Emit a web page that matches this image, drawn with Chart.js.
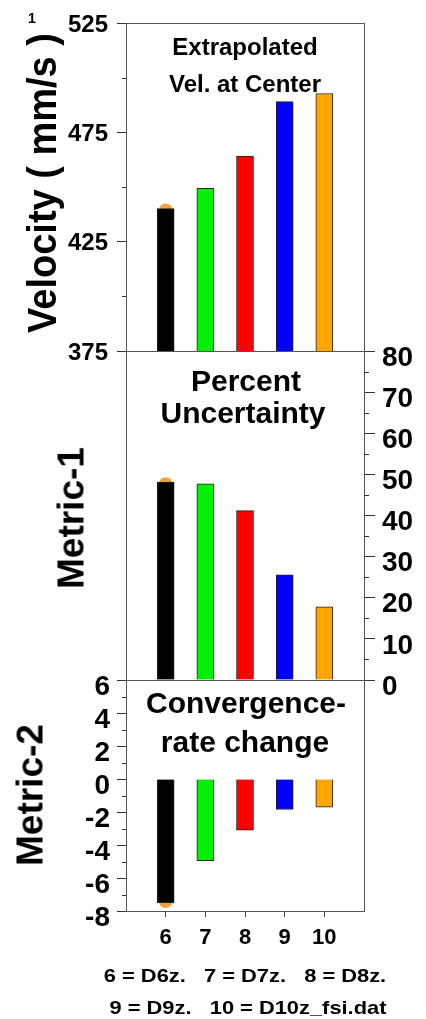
<!DOCTYPE html>
<html>
<head>
<meta charset="utf-8">
<script src="https://cdn.jsdelivr.net/npm/chart.js@4.4.1/dist/chart.umd.min.js"></script>
<style>
  html, body { margin: 0; padding: 0; background: #fff; }
  #wrap { position: relative; width: 426px; height: 1019px; overflow: hidden;
          font-family: "Liberation Sans", Arial, sans-serif; font-weight: bold; color: #000; }
  canvas { position: absolute; left: 0; top: 0; }
  .t { position: absolute; white-space: pre; line-height: 1; }
  .c { transform: translateX(-50%); }
  .r { transform: translate(-50%, -50%) rotate(-90deg); }
</style>
</head>
<body>
<div id="wrap">
  <canvas id="c1" width="426" height="1019"></canvas>
  <canvas id="c2" width="426" height="1019"></canvas>
  <canvas id="c3" width="426" height="1019"></canvas>

  <div class="t" style="left:28px; top:11px; font-size:14px;">1</div>
  <div class="t" style="left:42px; top:183px; font-size:40px; transform:translate(-50%, -50%) rotate(-90deg) scaleX(0.95);">Velocity ( mm/s )</div>
  <div class="t r" style="left:71px; top:518px; font-size:37px;">Metric-1</div>
  <div class="t r" style="left:30px; top:795px; font-size:37px;">Metric-2</div>

  <div class="t c" style="left:245px; top:35px; font-size:24px;">Extrapolated</div>
  <div class="t c" style="left:245px; top:72px; font-size:24px;">Vel. at Center</div>
  <div class="t c" style="left:246px; top:366px; font-size:30px;">Percent</div>
  <div class="t c" style="left:243px; top:398px; font-size:30px;">Uncertainty</div>
  <div class="t c" style="left:246px; top:688px; font-size:30px;">Convergence-</div>
  <div class="t c" style="left:245px; top:727px; font-size:30px;">rate change</div>

  <div class="t" style="left:245px; top:966px; font-size:19px; transform:translateX(-50%) scaleX(1.15);">6 = D6z.   7 = D7z.   8 = D8z.</div>
  <div class="t" style="left:248px; top:998px; font-size:19px; transform:translateX(-50%) scaleX(1.15);">9 = D9z.   10 = D10z_fsi.dat</div>
</div>

<script>
// cases on the x axis
var cases = [6, 7, 8, 9, 10];
var barColors = ['#000000', '#00f000', '#ff0000', '#0000ff', '#ffa500'];
var markerColor = '#eea43a';

// panel 1: extrapolated velocity at center (mm/s)
var velocity = [440.2, 449.5, 464.2, 489.2, 492.9];
var velocityMarker = [439.3];
var velMinor = [400, 450, 500];

// panel 2: percent uncertainty
var metric1 = [48.1, 47.7, 41.2, 25.6, 17.8];
var metric1Marker = [47.6];
var m1Minor = [5, 15, 25, 35, 45, 55, 65, 75];

// panel 3: convergence-rate change
var metric2 = [-7.5, -4.95, -3.1, -1.85, -1.7];
var metric2Marker = [-7.4];
var m2Minor = [-7, -5, -3, -1, 1, 3, 5];

var FONT = '"Liberation Sans", Arial, sans-serif';

function points(vals) {
  return vals.map(function(v, i) { return { x: cases[i], y: v }; });
}

/* box round the plot area + short minor ticks */
var framePlugin = {
  id: 'frame',
  afterDatasetsDraw: function(chart, args, opts) {
    var a = chart.chartArea, ctx = chart.ctx;
    ctx.save();
    ctx.strokeStyle = '#555';
    ctx.lineWidth = 1;
    ctx.strokeRect(Math.round(a.left) + 0.5, Math.round(a.top) + 0.5,
                   Math.round(a.right - a.left), Math.round(a.bottom - a.top));
    var s = chart.scales.y;
    ctx.strokeStyle = '#333';
    (opts.minor || []).forEach(function(v) {
      var py = Math.round(s.getPixelForValue(v)) + 0.5;
      ctx.beginPath();
      if (opts.side === 'right') {
        ctx.moveTo(a.right, py); ctx.lineTo(a.right + opts.len, py);
      } else {
        ctx.moveTo(a.left - opts.len, py); ctx.lineTo(a.left, py);
      }
      ctx.stroke();
    });
    ctx.restore();
  }
};

function datasets(vals, marker) {
  return [
    { data: points(vals), backgroundColor: barColors, borderColor: '#222',
      borderWidth: 1, barThickness: 17 },
    { type: 'line', data: [{ x: cases[0], y: marker[0] }], showLine: false,
      pointRadius: 7, pointBackgroundColor: markerColor, pointBorderWidth: 0 }
  ];
}

function xScale(show) {
  return {
    type: 'linear', min: 5, max: 11, offset: false, display: show,
    grid: { offset: false, drawOnChartArea: false, drawTicks: true, tickLength: 6, color: '#444' },
    border: { display: false },
    afterBuildTicks: function(s) { s.ticks = cases.map(function(v) { return { value: v }; }); },
    afterFit: function(s) { if (show) s.height = 40; },
    ticks: { padding: 8, autoSkip: false, color: '#000', font: { family: FONT, size: 22, weight: 'bold' } }
  };
}

function yScale(o) {
  return {
    position: o.position, min: o.min, max: o.max,
    grid: { drawOnChartArea: false, drawTicks: true, tickLength: o.tl, color: '#333' },
    border: { display: false },
    afterFit: function(s) { s.width = o.width; },
    ticks: { stepSize: o.step, autoSkip: false, padding: o.pad, labelOffset: o.off, color: '#000',
             font: { family: FONT, size: o.size, weight: 'bold' } }
  };
}

function panel(id, vals, marker, pad, x, y, frame) {
  return new Chart(document.getElementById(id), {
    type: 'bar',
    data: { datasets: datasets(vals, marker) },
    options: {
      responsive: false, animation: false,
      layout: { padding: pad },
      plugins: { legend: { display: false }, tooltip: { enabled: false }, frame: frame },
      scales: { x: x, y: y }
    },
    plugins: [framePlugin]
  });
}

panel('c1', velocity, velocityMarker,
  { left: 0, right: 62, top: 22, bottom: 668 },
  xScale(false),
  yScale({ position: 'left', min: 375, max: 525, step: 50, tl: 9, pad: 9, off: 2, size: 24, width: 126 }),
  { minor: velMinor, side: 'left', len: 4 });

panel('c2', metric1, metric1Marker,
  { left: 126, right: 0, top: 351, bottom: 339 },
  xScale(false),
  yScale({ position: 'right', min: 0, max: 80, step: 10, tl: 11, pad: 7, off: 7, size: 28, width: 62 }),
  { minor: m1Minor, side: 'right', len: 5 });

panel('c3', metric2, metric2Marker,
  { left: 0, right: 62, top: 680, bottom: 68 },
  xScale(true),
  yScale({ position: 'left', min: -8, max: 6, step: 2, tl: 9, pad: 7, off: 7, size: 28, width: 126 }),
  { minor: m2Minor, side: 'left', len: 4 });
</script>
</body>
</html>
